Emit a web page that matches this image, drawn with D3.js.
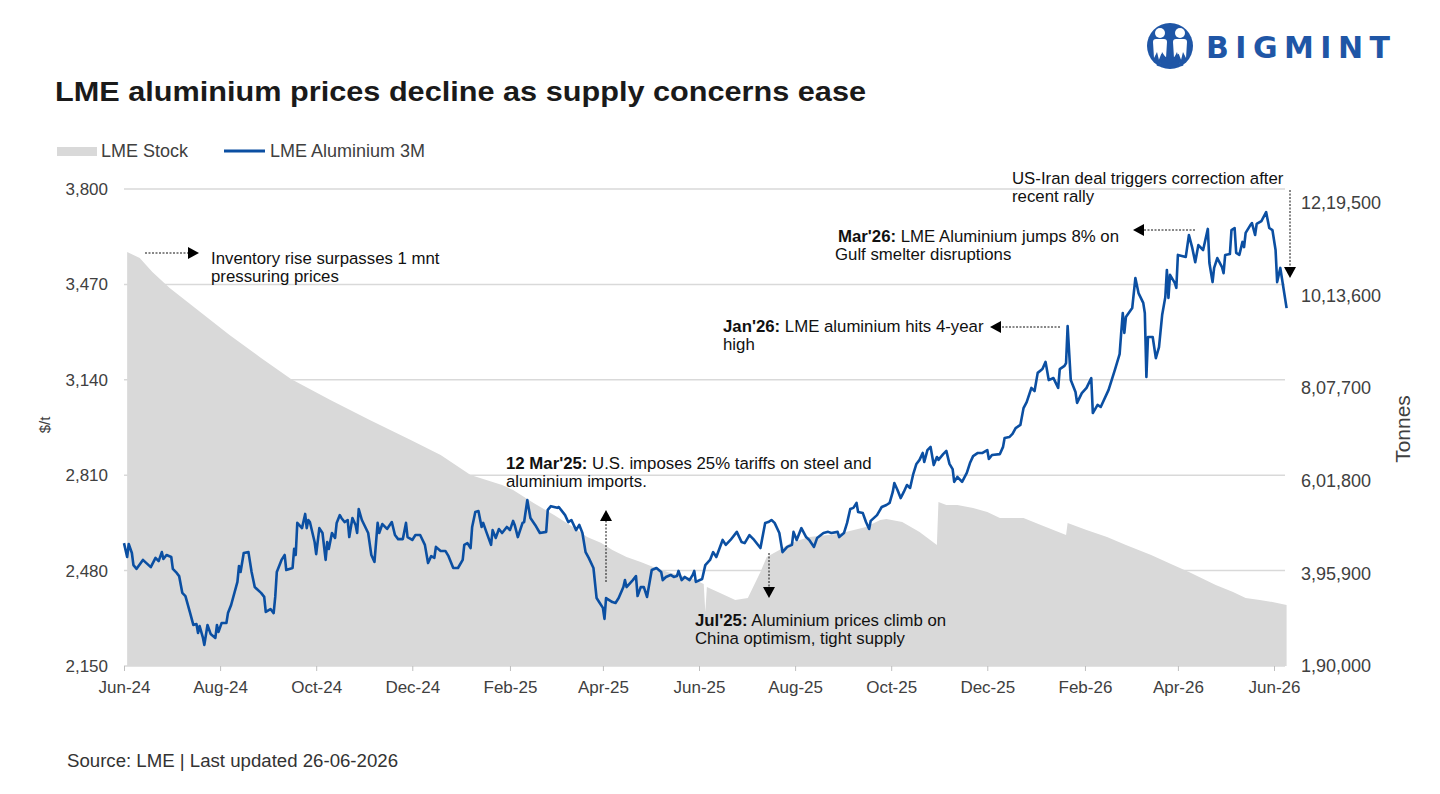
<!DOCTYPE html>
<html>
<head>
<meta charset="utf-8">
<script src="https://cdn.jsdelivr.net/npm/d3@7"></script>
<style>
  body { margin: 0; background: #fff; }
  svg { display: block; font-family: "Liberation Sans", Arial, sans-serif; }
</style>
</head>
<body>
<svg id="chart" width="1440" height="794"></svg>
<script>
// LME Aluminium 3M, $/t
const priceSeries = [
  ["2024-06-01",2575],["2024-06-03",2527],["2024-06-04",2572],["2024-06-06",2541],["2024-06-07",2499],
  ["2024-06-09",2486],["2024-06-13",2517],["2024-06-18",2492],["2024-06-21",2524],["2024-06-23",2513],
  ["2024-06-25",2544],["2024-06-26",2520],["2024-06-28",2534],["2024-07-01",2527],["2024-07-02",2486],
  ["2024-07-04",2475],["2024-07-06",2461],["2024-07-08",2403],["2024-07-10",2392],["2024-07-13",2333],
  ["2024-07-15",2292],["2024-07-17",2295],["2024-07-18",2264],["2024-07-19",2288],["2024-07-21",2250],
  ["2024-07-22",2223],["2024-07-24",2292],["2024-07-26",2261],["2024-07-29",2247],["2024-07-30",2292],
  ["2024-07-31",2268],["2024-08-02",2299],["2024-08-05",2299],["2024-08-06",2333],["2024-08-08",2361],
  ["2024-08-12",2441],["2024-08-13",2496],["2024-08-14",2475],["2024-08-16",2541],["2024-08-19",2544],
  ["2024-08-21",2475],["2024-08-23",2423],["2024-08-27",2403],["2024-08-29",2389],["2024-08-30",2337],
  ["2024-09-02",2347],["2024-09-04",2333],["2024-09-05",2389],["2024-09-06",2475],["2024-09-09",2517],
  ["2024-09-11",2534],["2024-09-12",2482],["2024-09-16",2489],["2024-09-17",2555],["2024-09-18",2534],
  ["2024-09-19",2645],["2024-09-22",2627],["2024-09-24",2676],["2024-09-25",2627],["2024-09-26",2655],
  ["2024-09-27",2648],["2024-09-30",2579],["2024-10-01",2537],["2024-10-03",2627],["2024-10-05",2610],
  ["2024-10-07",2517],["2024-10-08",2579],["2024-10-09",2555],["2024-10-11",2610],["2024-10-13",2593],
  ["2024-10-14",2645],["2024-10-16",2672],["2024-10-17",2662],["2024-10-19",2648],["2024-10-21",2655],
  ["2024-10-22",2596],["2024-10-24",2662],["2024-10-26",2638],["2024-10-27",2610],["2024-10-28",2693],
  ["2024-10-30",2655],["2024-11-03",2610],["2024-11-05",2534],["2024-11-07",2510],["2024-11-09",2645],
  ["2024-11-10",2610],["2024-11-12",2641],["2024-11-15",2624],["2024-11-18",2648],["2024-11-20",2603],
  ["2024-11-22",2589],["2024-11-25",2589],["2024-11-27",2645],["2024-11-28",2596],["2024-12-01",2586],
  ["2024-12-03",2603],["2024-12-06",2603],["2024-12-09",2569],["2024-12-11",2506],["2024-12-13",2530],
  ["2024-12-15",2524],["2024-12-16",2562],["2024-12-19",2548],["2024-12-22",2548],["2024-12-24",2530],
  ["2024-12-27",2489],["2024-12-30",2489],["2025-01-02",2517],["2025-01-03",2569],["2025-01-05",2575],
  ["2025-01-07",2558],["2025-01-08",2631],["2025-01-10",2683],["2025-01-12",2686],["2025-01-14",2631],
  ["2025-01-15",2645],["2025-01-17",2614],["2025-01-20",2569],["2025-01-21",2620],["2025-01-23",2593],
  ["2025-01-25",2624],["2025-01-27",2610],["2025-01-30",2631],["2025-02-01",2620],["2025-02-03",2652],
  ["2025-02-04",2638],["2025-02-06",2596],["2025-02-09",2645],["2025-02-10",2648],["2025-02-12",2724],
  ["2025-02-14",2662],["2025-02-17",2638],["2025-02-20",2610],["2025-02-24",2614],["2025-02-25",2690],
  ["2025-02-27",2703],["2025-03-03",2697],["2025-03-04",2700],["2025-03-08",2672],["2025-03-10",2648],
  ["2025-03-12",2655],["2025-03-15",2620],["2025-03-17",2638],["2025-03-19",2610],["2025-03-21",2544],
  ["2025-03-23",2524],["2025-03-26",2489],["2025-03-28",2385],["2025-03-30",2368],["2025-04-01",2351],
  ["2025-04-02",2313],["2025-04-03",2385],["2025-04-07",2371],["2025-04-09",2368],["2025-04-11",2385],
  ["2025-04-14",2423],["2025-04-15",2447],["2025-04-16",2423],["2025-04-20",2447],["2025-04-22",2461],
  ["2025-04-23",2392],["2025-04-25",2423],["2025-04-27",2423],["2025-04-29",2389],["2025-05-02",2482],
  ["2025-05-05",2489],["2025-05-08",2475],["2025-05-09",2447],["2025-05-11",2458],["2025-05-14",2465],
  ["2025-05-16",2458],["2025-05-18",2461],["2025-05-19",2479],["2025-05-21",2447],["2025-05-23",2458],
  ["2025-05-26",2447],["2025-05-28",2465],["2025-05-29",2479],["2025-05-30",2441],["2025-06-03",2451],
  ["2025-06-05",2499],["2025-06-08",2517],["2025-06-10",2544],["2025-06-12",2527],["2025-06-16",2586],
  ["2025-06-18",2569],["2025-06-21",2586],["2025-06-25",2614],["2025-06-28",2579],["2025-06-30",2575],
  ["2025-07-03",2603],["2025-07-06",2586],["2025-07-10",2558],["2025-07-13",2645],["2025-07-15",2648],
  ["2025-07-17",2655],["2025-07-19",2645],["2025-07-22",2610],["2025-07-24",2544],["2025-07-27",2562],
  ["2025-07-30",2569],["2025-07-31",2614],["2025-08-02",2586],["2025-08-05",2627],["2025-08-08",2596],
  ["2025-08-10",2586],["2025-08-13",2562],["2025-08-15",2593],["2025-08-19",2610],["2025-08-22",2614],
  ["2025-08-24",2610],["2025-08-28",2614],["2025-08-29",2596],["2025-09-01",2610],["2025-09-03",2645],
  ["2025-09-05",2693],["2025-09-07",2697],["2025-09-09",2714],["2025-09-10",2683],["2025-09-13",2679],
  ["2025-09-15",2648],["2025-09-17",2624],["2025-09-18",2652],["2025-09-22",2672],["2025-09-25",2700],
  ["2025-09-28",2707],["2025-09-30",2714],["2025-10-02",2752],["2025-10-03",2783],["2025-10-05",2759],
  ["2025-10-07",2731],["2025-10-09",2752],["2025-10-11",2776],["2025-10-13",2766],["2025-10-15",2814],
  ["2025-10-17",2849],["2025-10-19",2863],["2025-10-21",2887],["2025-10-22",2856],["2025-10-24",2897],
  ["2025-10-26",2908],["2025-10-28",2845],["2025-10-30",2873],["2025-10-31",2863],["2025-11-03",2883],
  ["2025-11-05",2894],["2025-11-07",2849],["2025-11-09",2831],["2025-11-10",2787],["2025-11-12",2804],
  ["2025-11-15",2787],["2025-11-18",2818],["2025-11-20",2852],["2025-11-22",2876],["2025-11-25",2887],
  ["2025-11-28",2887],["2025-12-01",2897],["2025-12-02",2866],["2025-12-04",2880],["2025-12-09",2883],
  ["2025-12-11",2908],["2025-12-12",2939],["2025-12-15",2942],["2025-12-17",2953],["2025-12-19",2973],
  ["2025-12-22",2984],["2025-12-24",3042],["2025-12-26",3063],["2025-12-29",3112],["2025-12-31",3101],
  ["2026-01-02",3164],["2026-01-05",3177],["2026-01-07",3202],["2026-01-09",3139],["2026-01-12",3146],
  ["2026-01-15",3112],["2026-01-16",3177],["2026-01-19",3188],["2026-01-20",3198],["2026-01-21",3326],
  ["2026-01-23",3139],["2026-01-26",3098],["2026-01-27",3060],["2026-01-30",3094],["2026-02-02",3112],
  ["2026-02-05",3146],["2026-02-06",3025],["2026-02-09",3053],["2026-02-11",3046],["2026-02-16",3105],
  ["2026-02-20",3174],["2026-02-23",3229],["2026-02-24",3302],["2026-02-25",3371],["2026-02-26",3302],
  ["2026-02-27",3357],["2026-03-03",3388],["2026-03-05",3492],["2026-03-07",3440],["2026-03-10",3406],
  ["2026-03-11",3371],["2026-03-12",3150],["2026-03-13",3288],["2026-03-16",3288],["2026-03-18",3215],
  ["2026-03-20",3253],["2026-03-22",3364],["2026-03-24",3426],["2026-03-25",3520],["2026-03-26",3423],
  ["2026-03-27",3503],["2026-03-30",3475],["2026-03-31",3458],["2026-04-01",3572],["2026-04-06",3565],
  ["2026-04-08",3641],["2026-04-10",3599],["2026-04-12",3547],["2026-04-14",3606],["2026-04-17",3589],
  ["2026-04-20",3662],["2026-04-21",3544],["2026-04-23",3478],["2026-04-24",3527],["2026-04-26",3561],
  ["2026-04-29",3530],["2026-04-30",3509],["2026-05-01",3572],["2026-05-04",3575],["2026-05-05",3658],
  ["2026-05-07",3665],["2026-05-08",3579],["2026-05-10",3572],["2026-05-12",3617],["2026-05-13",3599],
  ["2026-05-14",3648],["2026-05-17",3675],["2026-05-18",3682],["2026-05-20",3641],["2026-05-21",3679],
  ["2026-05-24",3689],["2026-05-27",3720],["2026-05-29",3665],["2026-05-31",3658],["2026-06-02",3589],
  ["2026-06-03",3478],["2026-06-04",3503],["2026-06-05",3527],["2026-06-06",3492],["2026-06-09",3388]
];

// LME stock, tonnes
const stockSeries = [
  ["2024-06-03",1110000],["2024-06-11",1096700],["2024-06-19",1065500],["2024-06-30",1030000],
  ["2024-07-19",978000],["2024-08-07",925500],["2024-08-27",874400],["2024-09-15",827600],
  ["2024-10-10",781100],["2024-11-04",736700],["2024-11-30",692200],["2024-12-19",658900],
  ["2025-01-07",614400],["2025-01-27",592200],["2025-02-03",581100],["2025-02-16",552200],
  ["2025-03-01",525500],["2025-03-13",498900],["2025-03-22",476700],["2025-03-31",463300],
  ["2025-04-07",447800],["2025-04-16",432200],["2025-04-25",421100],["2025-05-03",410000],
  ["2025-05-12",398900],["2025-05-27",385600],["2025-06-04",372200],["2025-06-05",310000],
  ["2025-06-06",365600],["2025-06-13",354400],["2025-06-24",336700],["2025-07-02",341100],
  ["2025-07-06",370000],["2025-07-10",398900],["2025-07-14",432200],["2025-07-22",447800],
  ["2025-07-29",463300],["2025-08-10",476700],["2025-08-28",483300],["2025-09-15",498900],
  ["2025-09-24",514400],["2025-09-28",516700],["2025-10-08",510000],["2025-10-19",487800],
  ["2025-10-30",458900],["2025-10-31",554400],["2025-11-05",547800],["2025-11-12",547800],
  ["2025-11-22",541100],["2025-12-01",532200],["2025-12-09",518900],["2025-12-24",518900],
  ["2026-01-04",503300],["2026-01-20",481100],["2026-01-21",507800],["2026-02-02",492200],
  ["2026-02-15",476700],["2026-02-27",458900],["2026-03-15",436700],["2026-03-29",414400],
  ["2026-04-08",398900],["2026-04-25",370000],["2026-05-06",354400],["2026-05-14",341100],
  ["2026-05-23",336700],["2026-05-31",332200],["2026-06-09",325600]
];

const xTickDates = ["2024-06-01","2024-08-01","2024-10-01","2024-12-01","2025-02-01","2025-04-01",
  "2025-06-01","2025-08-01","2025-10-01","2025-12-01","2026-02-01","2026-04-01","2026-06-01"];
const priceTicks = [2150, 2480, 2810, 3140, 3470, 3800];
const stockTicks = [190000, 395900, 601800, 807700, 1013600, 1219500];

const parse = d3.timeParse("%Y-%m-%d");
const svg = d3.select("#chart");

const x = d3.scaleTime()
  .domain([parse("2024-06-01"), parse("2026-06-01")])
  .range([124, 1274]);
const yL = d3.scaleLinear().domain([2150, 3800]).range([666, 189]);
const yR = d3.scaleLinear().domain([190000, 1250000]).range([666, 189]);

// indian digit grouping: 12,19,500
function inFmt(n) {
  let s = String(Math.round(n));
  if (s.length <= 3) return s;
  let last3 = s.slice(-3);
  let rest = s.slice(0, -3).replace(/\B(?=(\d{2})+(?!\d))/g, ",");
  return rest + "," + last3;
}

// gridlines
svg.append("g")
  .selectAll("line")
  .data(priceTicks)
  .enter().append("line")
  .attr("x1", 124).attr("x2", 1285)
  .attr("y1", d => yL(d)).attr("y2", d => yL(d))
  .attr("stroke", "#d9d9d9")
  .attr("stroke-width", 1.5);

// stock area
let area = d3.area()
  .x(d => x(parse(d[0])))
  .y0(yR(190000))
  .y1(d => yR(d[1]));
svg.append("path")
  .datum(stockSeries)
  .attr("d", area)
  .attr("fill", "#d9d9d9");

// price line
let line = d3.line()
  .x(d => x(parse(d[0])))
  .y(d => yL(d[1]));
svg.append("path")
  .datum(priceSeries)
  .attr("d", line)
  .attr("fill", "none")
  .attr("stroke", "#0b4fa2")
  .attr("stroke-width", 2.6)
  .attr("stroke-linejoin", "round");

// axes
let axisL = svg.append("g")
  .attr("transform", "translate(124,0)")
  .call(d3.axisLeft(yL).tickValues(priceTicks).tickSize(0).tickPadding(16).tickFormat(d3.format(",")));
let axisR = svg.append("g")
  .attr("transform", "translate(1287,0)")
  .call(d3.axisRight(yR).tickValues(stockTicks).tickSize(0).tickPadding(14).tickFormat(inFmt));
let axisB = svg.append("g")
  .attr("transform", "translate(0,666)")
  .call(d3.axisBottom(x).tickValues(xTickDates.map(parse)).tickSize(5).tickPadding(10)
    .tickFormat(d3.timeFormat("%b-%y")));
[axisL, axisR, axisB].forEach(a => {
  a.select(".domain").remove();
  a.selectAll("text")
    .attr("fill", "#404040")
    .style("font-family", "'Liberation Sans', Arial, sans-serif")
    .style("font-size", "17px");
});
axisR.selectAll("text").style("font-size", "18px");
axisB.selectAll("line").attr("stroke", "#bfbfbf");

// axis titles
svg.append("text")
  .attr("transform", "translate(50,425) rotate(-90)")
  .attr("text-anchor", "middle")
  .attr("fill", "#404040")
  .style("font-size", "15px")
  .text("$/t");
svg.append("text")
  .attr("transform", "translate(1410,429) rotate(-90)")
  .attr("text-anchor", "middle")
  .attr("fill", "#404040")
  .style("font-size", "21px")
  .text("Tonnes");

// title
svg.append("text")
  .attr("x", 55).attr("y", 101)
  .attr("fill", "#1a1a1a")
  .attr("textLength", 811)
  .attr("lengthAdjust", "spacingAndGlyphs")
  .style("font-size", "28.5px")
  .style("font-weight", "bold")
  .text("LME aluminium prices decline as supply concerns ease");

// legend
svg.append("rect")
  .attr("x", 57).attr("y", 147).attr("width", 40).attr("height", 9)
  .attr("fill", "#d9d9d9");
svg.append("text")
  .attr("x", 101).attr("y", 157)
  .attr("fill", "#404040")
  .style("font-size", "18px")
  .text("LME Stock");
svg.append("line")
  .attr("x1", 224).attr("x2", 265).attr("y1", 151).attr("y2", 151)
  .attr("stroke", "#0b4fa2").attr("stroke-width", 3);
svg.append("text")
  .attr("x", 270).attr("y", 157)
  .attr("fill", "#404040")
  .style("font-size", "18px")
  .text("LME Aluminium 3M");

// source
svg.append("text")
  .attr("x", 67).attr("y", 767)
  .attr("fill", "#333")
  .attr("textLength", 331)
  .attr("lengthAdjust", "spacingAndGlyphs")
  .style("font-size", "17.5px")
  .text("Source: LME | Last updated 26-06-2026");

// annotations
function note(x0, y0, bold, rest, line2, x2) {
  let t = svg.append("text")
    .attr("x", x0).attr("y", y0)
    .attr("fill", "#111")
    .style("font-size", "16.8px");
  if (bold) t.append("tspan").style("font-weight", "bold").text(bold);
  t.append("tspan").text(rest);
  svg.append("text")
    .attr("x", x2 == null ? x0 : x2).attr("y", y0 + 18)
    .attr("fill", "#111")
    .style("font-size", "16.8px")
    .text(line2);
}
function arrow(x1, y1, x2, y2) {
  // dashed shaft from (x1,y1) to the head, head tip at (x2,y2)
  let ang = Math.atan2(y2 - y1, x2 - x1);
  let hl = 11, hw = 6;
  let bx = x2 - hl * Math.cos(ang), by = y2 - hl * Math.sin(ang);
  svg.append("line")
    .attr("x1", x1).attr("y1", y1).attr("x2", bx).attr("y2", by)
    .attr("stroke", "#111").attr("stroke-width", 1)
    .attr("stroke-dasharray", "2,1.5");
  let px = -Math.sin(ang) * hw, py = Math.cos(ang) * hw;
  svg.append("path")
    .attr("d", `M${x2},${y2}L${bx + px},${by + py}L${bx - px},${by - py}Z`)
    .attr("fill", "#000");
}

note(211, 264, null, "Inventory rise surpasses 1 mnt", "pressuring prices");
arrow(145, 253, 199, 253);

note(506, 469, "12 Mar'25:", " U.S. imposes 25% tariffs on steel and", "aluminium imports.");
arrow(606, 582, 606, 510);

note(695, 626, "Jul'25:", " Aluminium prices climb on", "China optimism, tight supply");
arrow(769, 553, 769, 598);

note(723, 332, "Jan'26:", " LME aluminium hits 4-year", "high");
arrow(1060, 327, 990, 327);

note(838, 242, "Mar'26:", " LME Aluminium jumps 8% on", "Gulf smelter disruptions", 835);
arrow(1195, 230, 1133, 230);

note(1012, 184, null, "US-Iran deal triggers correction after", "recent rally");
arrow(1290, 190, 1290, 278);

// logo
let logo = svg.append("g");
logo.append("circle").attr("cx", 1170).attr("cy", 46).attr("r", 23).attr("fill", "#1f56a6");
logo.append("circle").attr("cx", 1160).attr("cy", 33).attr("r", 5).attr("fill", "#fff");
logo.append("circle").attr("cx", 1180).attr("cy", 33).attr("r", 5).attr("fill", "#fff");
logo.append("path")
  .attr("d", "M1153,42 Q1153,39 1156,39 L1164,39 Q1167,39 1167,42 L1166,58 L1162,52 L1160,64 L1157,52 L1154,58 Z")
  .attr("fill", "#fff");
logo.append("path")
  .attr("d", "M1173,42 Q1173,39 1176,39 L1184,39 Q1187,39 1187,42 L1186,58 L1183,52 L1180,64 L1177,52 L1174,58 Z")
  .attr("fill", "#fff");
logo.append("path")
  .attr("d", "M1158,66 L1162,56 L1170,62 L1178,56 L1182,66")
  .attr("fill", "none").attr("stroke", "#1f56a6").attr("stroke-width", 3);
svg.append("text")
  .attr("x", 1206).attr("y", 58)
  .attr("fill", "#1f56a6")
  .attr("textLength", 184)
  .attr("lengthAdjust", "spacing")
  .style("font-family", "'DejaVu Sans', sans-serif")
  .style("font-size", "30px")
  .style("font-weight", "bold")
  .text("BIGMINT");
</script>
</body>
</html>
